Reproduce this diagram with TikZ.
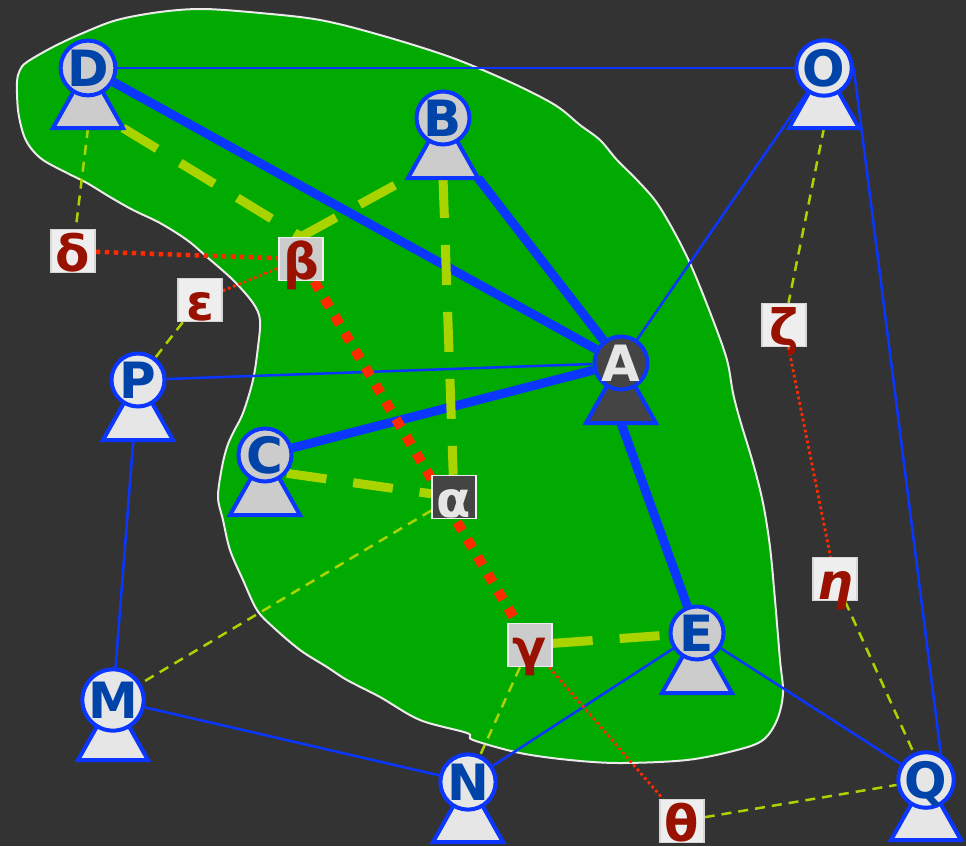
\documentclass[tikz,border=0pt]{standalone}
\usepackage{fontspec}
\setmainfont{DejaVu Sans}
\usepackage{tikz}
\usetikzlibrary{arrows.meta, calc}
\definecolor{Dark}{HTML}{333333}
\definecolor{Blob}{HTML}{00AA00}
\definecolor{Link}{HTML}{0A36FF}
\definecolor{Letter}{HTML}{0044AA}
\definecolor{Lime}{HTML}{AAD400}
\definecolor{Flame}{HTML}{FF2A00}
\definecolor{GRed}{HTML}{991100}
\definecolor{PGray}{HTML}{CCCCCC}
\definecolor{PLight}{HTML}{E6E6E6}
\definecolor{PDark}{HTML}{444444}
\definecolor{BoxLight}{HTML}{EEEEEE}
\pgfdeclarelayer{blob}
\pgfdeclarelayer{links}
\pgfsetlayers{blob,links,main}

\begin{document}
\begin{tikzpicture}[x=1pt, y=-1pt,
    peer/.style={circle, draw=Link, line width=4pt, minimum size=53pt, inner sep=0pt,
      font=\bfseries\fontsize{50}{50}\selectfont, text height=36pt, text depth=0pt},
    peerbase/.style={draw=Link, line width=4pt, line join=miter},
    greek/.style={rectangle, line width=1.5pt, minimum width=44pt, minimum height=43pt,
      inner sep=0pt, font=\bfseries\fontsize{50}{50}\selectfont, text=GRed,
      text height=40pt, text depth=0pt},
    outbox/.style={greek, fill=BoxLight, draw=PGray!80},
    inbox/.style={greek, fill=PGray, draw=BoxLight},
    thinlink/.style={Link, line width=2.5pt},
    fatlink/.style={Link, line width=9pt},
    fatdash/.style={Lime, line width=9pt, dash pattern=on 40pt off 27pt},
    thindash/.style={Lime, line width=2.5pt, dash pattern=on 10pt off 7pt},
    fatdots/.style={Flame, line width=10pt, dash pattern=on 10pt off 10pt},
    middots/.style={Flame, line width=4.5pt, dash pattern=on 4.5pt off 4.5pt},
    finedots/.style={Flame, line width=2.8pt, dash pattern=on 2.8pt off 2.8pt}]
  \useasboundingbox (0,0) rectangle (966,846);
  \begin{pgfonlayer}{blob}
    \fill[Dark] (0,0) rectangle (966,846);
    \filldraw[fill=Blob, draw=white!92!black, line width=2pt]
      plot[smooth cycle, tension=0.55] coordinates {
        (203,9) (260,13) (320,20) (380,35) (450,57) (510,82) (555,105) (580,125)
        (600,140) (617,160) (637,180) (657,203) (677,237) (693,270) (713,320)
        (727,360) (733,393) (740,420) (753,463) (763,503) (770,547) (775,600)
        (780,660) (783,693) (777,720) (763,740) (737,750) (687,760) (620,763)
        (570,760) (520,753) (473,740) (467,733) (420,720) (380,697) (347,680)
        (327,667) (300,650) (273,627) (257,610) (243,580) (230,550) (223,520)
        (218,497) (222,467) (227,447) (233,433) (243,413) (253,380) (258,347)
        (260,320) (253,303) (233,280) (207,257) (187,240) (160,223) (133,210)
        (110,197) (87,183) (67,173) (43,160) (30,147) (23,133) (18,110) (17,82)
        (20,70) (27,62) (53,47) (83,33) (117,20) (160,12)};
  \end{pgfonlayer}

  % peers
  \foreach \n/\px/\py/\fc/\tc in {D/88/68/PGray/Letter, B/443/118/PGray/Letter,
      C/265/455/PGray/Letter, E/697/633/PGray/Letter, A/621/363/PDark/PLight,
      O/824/68/PLight/Letter, P/138/380/PLight/Letter, M/113/700/PLight/Letter,
      N/468/782/PLight/Letter, Q/926/780/PLight/Letter} {
    \filldraw[peerbase, fill=\fc] (\px-35,\py+60) coordinate (\n-bl)
      -- (\px+35,\py+60) coordinate (\n-br) -- (\px,\py-2) -- cycle;
    \coordinate (\n-b) at (\px,\py+60);
    \node[peer, fill=\fc, text=\tc] (\n) at (\px,\py) {\n};
  }

  % greek labels
  \node[outbox] (delta) at (73,251) {δ};
  \node[inbox] (beta) at (301,259) {β};
  \node[outbox] (epsilon) at (200,300) {ε};
  \node[outbox] (zeta) at (784,325) {ζ};
  \node[outbox] (eta) at (835,579) {\itshape η};
  \node[greek, fill=PDark, draw=BoxLight, text=PLight] (alpha) at (454,497) {α};
  \node[inbox] (gamma) at (530,645) {γ};
  \node[outbox] (theta) at (682,821) {θ};

  \begin{pgfonlayer}{links}
    \draw[thinlink] (D) -- (O);
    \draw[thinlink] (O) -- (A);
    \draw[thinlink] (P) -- (A);
    \draw[thinlink] (P) -- (M);
    \draw[thinlink] (M) -- (N);
    \draw[thinlink] (N) -- (E);
    \draw[thinlink] (E) -- (Q);
    \draw[thinlink] (O.east) -- (Q.60);
    \draw[fatlink] (D) -- (A);
    \draw[fatlink] (B-br) -- (A);
    \draw[fatlink] (C) -- (A);
    \draw[fatlink] (A-b) -- (E);
    % dashed
    \draw[fatdash] (D-br) -- (beta.north);
    \draw[fatdash] (beta.north) -- (B-bl);
    \draw[fatdash] (B-b) -- (alpha);
    \draw[fatdash] (C.-40) -- (alpha);
    \draw[fatdash] (gamma) -- (E);
    \draw[thindash] (D-b) -- (delta);
    \draw[thindash] (epsilon) -- (P);
    \draw[thindash] (O-b) -- (zeta);
    \draw[thindash] (eta) -- (Q);
    \draw[thindash] (alpha) -- (M);
    \draw[thindash] (gamma) -- (N);
    \draw[thindash] (theta) -- (Q);
    % dotted
    \draw[fatdots] (beta) -- (gamma);
    \draw[middots] (delta) -- (beta);
    \draw[finedots] (epsilon) -- (beta);
    \draw[finedots] (zeta) -- (eta);
    \draw[finedots] (gamma) -- (theta);
  \end{pgfonlayer}
\end{tikzpicture}
\end{document}
